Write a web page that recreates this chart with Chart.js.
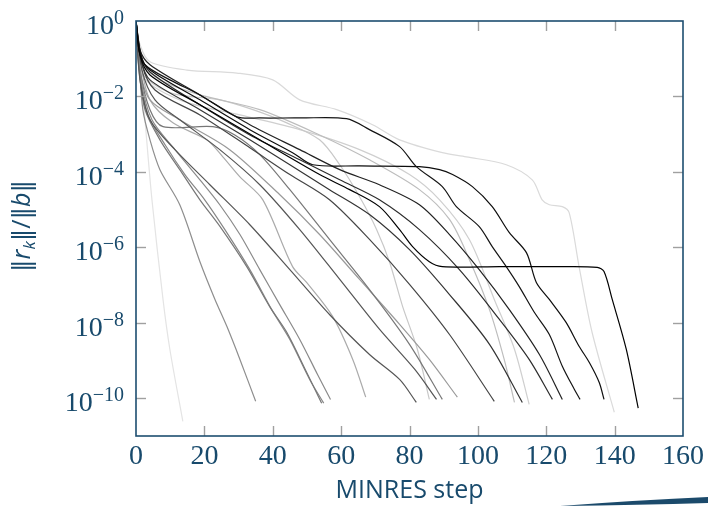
<!DOCTYPE html>
<html><head><meta charset="utf-8">
<script src="https://cdn.jsdelivr.net/npm/chart.js@4.4.0/dist/chart.umd.min.js"></script>
<style>html,body{margin:0;padding:0;background:#fff}#wrap{width:708px;height:506px;position:relative}</style>
</head><body><div id="wrap"><canvas id="c" width="708" height="506"></canvas></div>
<script>
// x: MINRES step, values: log10(||r_k||/||b||)
const xTicks = [0, 20, 40, 60, 80, 100, 120, 140, 160];
const yTickExponents = [0, -2, -4, -6, -8, -10];

const runV = [[0,0],[1.17,-0.90],[4.09,-1.43],[18.7,-2.22],[36.2,-3.15],[53.7,-4.07],[62.5,-4.47],[71.2,-4.92],[77.1,-5.53],[80.9,-5.98],[85.8,-6.38],[89.6,-6.51],[106.3,-6.51],[123.8,-6.51],[134.9,-6.53],[136.9,-6.64],[139.3,-7.38],[143.4,-8.70],[146.9,-10.26]];
const runT = [[0,0],[1.17,-0.90],[4.09,-1.30],[18.7,-2.09],[33.3,-2.88],[45.8,-3.49],[51.7,-3.81],[65.4,-3.84],[82.9,-3.86],[88.8,-3.94],[92.6,-4.07],[98.4,-4.39],[104.2,-4.92],[109.2,-5.61],[114.2,-6.14],[117.1,-6.93],[120.9,-7.38],[125.8,-7.99],[129.6,-8.62],[132.6,-9.05],[135.5,-9.58],[136.9,-10.03]];
const runS = [[0,0],[1.17,-0.77],[2.63,-1.16],[9.9,-1.56],[18.7,-1.96],[29.5,-2.54],[36.2,-2.57],[47.9,-2.57],[61.6,-2.59],[68.3,-2.88],[77.1,-3.33],[82.0,-3.86],[89.6,-4.39],[93.7,-4.92],[100.4,-5.45],[104.2,-5.98],[108.3,-6.51],[112.1,-7.04],[116.5,-7.72],[120.9,-8.31],[124.7,-9.15],[128.2,-9.76],[129.9,-10.03]];
const runR = [[0,0],[1.17,-0.77],[4.09,-1.16],[18.7,-1.96],[33.3,-2.75],[47.9,-3.41],[59.6,-3.94],[71.2,-4.34],[82.9,-4.87],[91.7,-5.66],[100.4,-6.59],[109.2,-7.65],[118.0,-8.84],[124.7,-10.03]];
const runQ = [[0,0],[1.46,-0.90],[4.09,-1.35],[18.7,-2.22],[33.3,-3.02],[47.9,-3.68],[59.6,-4.21],[71.2,-4.74],[82.9,-5.53],[94.6,-6.59],[106.3,-7.91],[115.0,-8.97],[121.8,-10.03]];
const runN = [[0,0],[1.46,-1.03],[4.09,-1.56],[18.7,-2.35],[33.3,-3.15],[45.0,-3.81],[56.6,-4.47],[68.3,-5.13],[80.0,-6.06],[91.7,-7.25],[103.4,-8.57],[113.0,-10.11]];
const runL = [[0,0],[1.75,-1.16],[5.55,-1.83],[18.7,-2.49],[33.3,-3.36],[45.0,-4.07],[56.6,-4.74],[68.3,-5.79],[80.0,-6.98],[91.7,-8.31],[104.8,-10.08]];
const runG = [[0,0],[1.17,-1.56],[4.09,-2.62],[11.4,-3.41],[21.6,-4.34],[33.3,-5.40],[45.0,-6.59],[56.6,-7.78],[68.3,-8.84],[77.1,-9.50],[82.0,-10.11]];
const runI = [[0,0],[1.75,-1.30],[5.55,-2.09],[12.8,-2.62],[24.5,-3.41],[36.2,-4.34],[47.9,-5.53],[59.6,-6.85],[71.2,-8.17],[81.5,-9.23],[87.9,-10.03]];
const runC = [[0,0],[0.9,-1.30],[2.63,-2.35],[7.0,-3.15],[12.8,-3.94],[18.7,-4.74],[24.6,-5.45],[32.4,-6.51],[39.1,-7.57],[44.1,-8.25],[49.9,-9.31],[54.3,-10.13]];
const runD = [[0,0],[1.17,-1.43],[3.5,-2.49],[8.5,-3.28],[14.3,-4.07],[20.1,-4.74],[26.0,-5.53],[33.3,-6.59],[39.7,-7.65],[45.0,-8.44],[50.8,-9.50],[54.9,-10.13]];
const runE = [[0,0],[1.46,-1.56],[4.67,-2.62],[11.4,-3.41],[18.7,-4.21],[24.5,-4.87],[30.4,-5.66],[36.2,-6.59],[42.0,-7.51],[47.9,-8.44],[53.1,-9.37],[56.9,-10.03]];
const runB = [[0,0],[0.9,-1.03],[2.0,-2.35],[4.09,-3.15],[7.0,-3.94],[12.8,-4.87],[18.7,-6.38],[23.1,-7.38],[26.6,-8.10],[30.4,-8.97],[35.0,-10.08]];
const runJ = [[0,0],[1.17,-1.30],[4.09,-2.35],[7.9,-2.80],[22.5,-2.80],[28.9,-3.02],[36.2,-3.54],[45.0,-4.47],[56.6,-5.79],[68.3,-7.12],[80.0,-8.57],[89.6,-10.03]];
const runK = [[0,0],[1.17,-1.30],[4.09,-2.09],[12.8,-2.62],[27.4,-3.41],[42.0,-4.60],[53.7,-5.66],[65.4,-6.85],[77.1,-8.04],[85.8,-8.97],[94.0,-9.97]];
const runF = [[0,0],[1.17,-1.03],[4.09,-2.09],[10.8,-2.70],[20.7,-3.15],[25.4,-3.60],[30.4,-4.13],[37.1,-4.74],[45.8,-6.51],[49.9,-6.93],[57.5,-7.83],[63.4,-8.97],[67.2,-9.97]];
const runM = [[0,0],[1.17,-1.03],[7.0,-1.56],[18.7,-1.96],[36.2,-2.35],[53.7,-3.02],[68.3,-3.68],[82.9,-4.47],[91.7,-5.26],[97.5,-6.32],[103.4,-7.65],[107.7,-8.97],[110.7,-10.11]];
const runH = [[0,0],[1.17,-1.30],[9.9,-1.90],[24.5,-2.09],[34.2,-2.35],[44.1,-2.70],[53.7,-3.15],[59.6,-3.81],[65.4,-4.66],[70.4,-5.53],[74.2,-6.40],[78.0,-7.57],[82.3,-8.70],[85.8,-10.03]];
const runO = [[0,0],[1.75,-1.43],[12.8,-2.09],[30.4,-2.49],[47.9,-2.88],[65.4,-3.41],[80.0,-4.07],[88.8,-4.74],[97.5,-5.79],[104.8,-7.38],[110.7,-8.70],[115.0,-10.16]];
const runU = [[0,0],[1.17,-0.63],[4.09,-1.08],[14.9,-1.30],[29.5,-1.38],[40.0,-1.56],[47.9,-2.09],[58.7,-2.35],[69.2,-2.75],[77.1,-3.15],[89.6,-3.49],[96.6,-3.60],[108.3,-3.81],[115.9,-4.21],[118.8,-4.74],[120.9,-4.87],[124.7,-4.92],[126.7,-5.08],[129.6,-6.51],[133.4,-8.25],[139.9,-10.37]];
const runA = [[0,0],[1.17,-1.03],[2.63,-2.62],[4.67,-4.74],[7.9,-7.38],[9.9,-8.70],[13.7,-10.61]];

const runs = [runV, runT, runS, runR, runQ, runN, runL, runG, runI, runC, runD, runE, runB, runJ, runK, runF, runM, runH, runO, runU, runA];
const runColors = ['#000000','#0d0d0d','#141414','#222222','#2c2c2c','#333333','#454545','#555555','#555555','#777777','#868686','#8a8a8a','#8e8e8e','#777777','#9a9a9a','#ababab','#bdbdbd','#c8c8c8','#cfcfcf','#dadada','#e4e4e4'];

const AXIS = '#1d4e70';
const TEXT = '#184a6c';

const decor = {
  id: 'decor',
  afterDraw(chart) {
    const {ctx, chartArea: {left, right, top, bottom}, scales: {x, y}} = chart;
    ctx.save();
    const seg = (a,b,c,d) => { ctx.beginPath(); ctx.moveTo(a,b); ctx.lineTo(c,d); ctx.stroke(); };
    ctx.strokeStyle = '#a0a0a0'; ctx.lineWidth = 1.4;
    xTicks.forEach(v => { if (v === xTicks[0] || v === xTicks[xTicks.length-1]) return; const px = Math.round(x.getPixelForValue(v)) + 0.5; seg(px, bottom, px, bottom - 10); seg(px, top, px, top + 10); });
    yTickExponents.forEach(e => { if (e === 0) return; const py = Math.round(y.getPixelForValue(Math.pow(10, e))) + 0.5; seg(left, py, left + 10, py); seg(right, py, right - 10, py); });
    ctx.strokeStyle = AXIS; ctx.lineWidth = 1.6;
    ctx.strokeRect(left, top, right - left, bottom - top);
    // y tick labels 10^e
    ctx.fillStyle = TEXT; ctx.textAlign = 'right'; ctx.textBaseline = 'alphabetic';
    yTickExponents.forEach(e => {
      const py = y.getPixelForValue(Math.pow(10, e));
      const expStr = e < 0 ? '\u2212' + Math.abs(e) : String(e);
      ctx.font = '20px "Liberation Serif"';
      const ew = ctx.measureText(expStr).width;
      const xr = 124;
      ctx.fillText(expStr, xr, py + 3);
      ctx.font = '28px "Liberation Serif"';
      ctx.fillText('10', xr - ew, py + 13);
    });
    // y axis title
    ctx.save();
    ctx.translate(30, 226);
    ctx.rotate(-Math.PI / 2);
    const parts = [
      ['\u2016', '25px "Open Sans","DejaVu Sans"', 0],
      ['r', 'italic 25px "Open Sans"', 0],
      ['k', 'italic 17px "Open Sans"', 5],
      ['\u2016/\u2016', '25px "Open Sans","DejaVu Sans"', 0],
      ['b', 'italic 25px "Open Sans"', 0],
      ['\u2016', '25px "Open Sans","DejaVu Sans"', 0]
    ];
    let tot = 0;
    parts.forEach(p => { ctx.font = p[1]; tot += ctx.measureText(p[0]).width; });
    let cx = -tot / 2;
    ctx.textAlign = 'left'; ctx.fillStyle = TEXT;
    parts.forEach(p => { ctx.font = p[1]; ctx.fillText(p[0], cx, p[2]); cx += ctx.measureText(p[0]).width; });
    ctx.restore();
    // decorative swoosh
    ctx.fillStyle = '#1b4a6b';
    ctx.beginPath();
    ctx.moveTo(560, 506);
    ctx.quadraticCurveTo(640, 500, 708, 497);
    ctx.lineTo(708, 503);
    ctx.quadraticCurveTo(640, 505, 560, 506);
    ctx.fill();
    ctx.restore();
  }
};

const datasets = runs.map((r, i) => ({
  data: r.map(p => ({x: p[0], y: Math.pow(10, p[1])})),
  borderColor: runColors[i],
  borderWidth: 1.2,
  pointRadius: 0,
  fill: false,
  tension: 0.3
}));

new Chart(document.getElementById('c'), {
  type: 'line',
  data: { datasets },
  options: {
    responsive: false,
    animation: false,
    devicePixelRatio: 1,
    layout: { padding: { left: 0, right: 24, top: 21, bottom: 0 } },
    plugins: { legend: { display: false }, tooltip: { enabled: false } },
    scales: {
      x: {
        type: 'linear', min: 0, max: 160,
        afterBuildTicks: s => { s.ticks = xTicks.map(v => ({value: v})); },
        afterFit: s => { s.height = 70; },
        grid: { display: false, drawTicks: false },
        border: { display: false },
        ticks: { color: TEXT, font: { family: 'Liberation Serif', size: 28 }, padding: 4, maxRotation: 0 },
        title: { display: true, text: 'MINRES step', color: TEXT, font: { family: 'Open Sans', size: 25 }, padding: { top: 2, bottom: 0 } }
      },
      y: {
        type: 'logarithmic', min: 1e-11, max: 1,
        afterBuildTicks: s => { s.ticks = yTickExponents.map(e => ({value: Math.pow(10, e)})); },
        afterFit: s => { s.width = 136; },
        grid: { display: false, drawTicks: false },
        border: { display: false },
        ticks: { display: false }
      }
    }
  },
  plugins: [decor]
});
</script>
</body></html>
